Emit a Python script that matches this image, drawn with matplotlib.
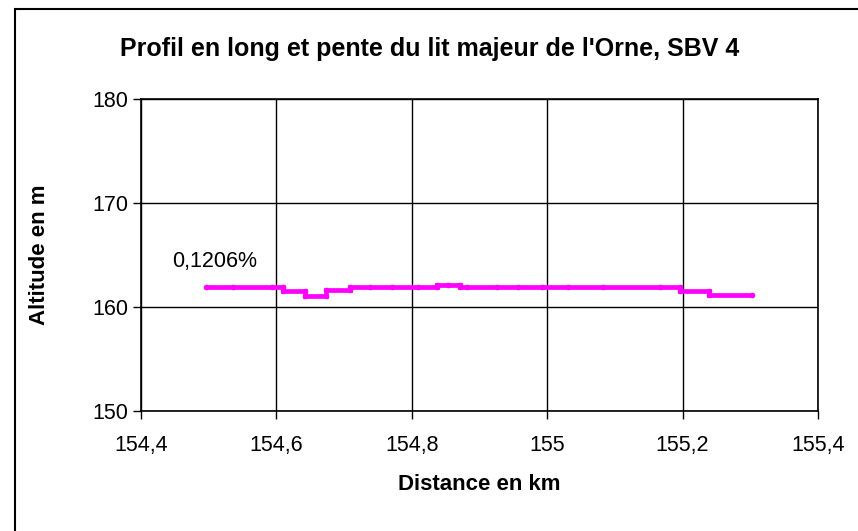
import numpy as np
import matplotlib.pyplot as plt
from matplotlib.patches import Rectangle
from matplotlib.ticker import FuncFormatter

plt.rcParams['font.family'] = ['Liberation Sans', 'DejaVu Sans']

# profile points (distance km, altitude m), steps drawn as duplicate x
dist = [154.496, 154.536, 154.594, 154.610, 154.610, 154.642, 154.642,
        154.673, 154.673, 154.709, 154.709, 154.738, 154.771, 154.809,
        154.837, 154.837, 154.853, 154.871, 154.871, 154.882, 154.926,
        154.957, 154.992, 155.031, 155.082, 155.167, 155.196, 155.196,
        155.239, 155.239, 155.303]
alt = [161.92, 161.92, 161.92, 161.92, 161.54, 161.54, 161.06,
       161.06, 161.63, 161.63, 161.92, 161.92, 161.92, 161.92,
       161.92, 162.10, 162.10, 162.10, 161.92, 161.92, 161.92,
       161.92, 161.92, 161.92, 161.92, 161.92, 161.92, 161.54,
       161.54, 161.15, 161.15]

xticks = [154.4, 154.6, 154.8, 155.0, 155.2, 155.4]
yticks = [150, 160, 170, 180]
slope_label = "0,1206%"


def fr(v, pos=None):
    s = f"{v:.1f}".rstrip('0').rstrip('.')
    return s.replace('.', ',')


fig = plt.figure(figsize=(8.58, 5.31), dpi=100)
ax = fig.add_axes([141 / 858, 1 - 411 / 531, 677 / 858, 312 / 531])

ax.plot(dist, alt, color='#FF00FF', lw=3.4, marker='o', ms=3,
        solid_joinstyle='miter', solid_capstyle='round')

ax.set_xlim(154.4, 155.4)
ax.set_ylim(150, 180)
ax.set_xticks(xticks)
ax.set_yticks(yticks)
ax.xaxis.set_major_formatter(FuncFormatter(fr))
ax.yaxis.set_major_formatter(FuncFormatter(lambda v, p: f"{v:.0f}"))
ax.grid(True, color='black', lw=1)
ax.tick_params(direction='out', length=6, width=1, labelsize=15.5)
ax.tick_params(axis='x', pad=11)
ax.tick_params(axis='y', pad=3)
for s in ax.spines.values():
    s.set_linewidth(1.2)

ax.set_xlabel('Distance en km', fontsize=16, fontweight='bold')
ax.set_ylabel('Altitude en m', fontsize=16, fontweight='bold')
ax.xaxis.set_label_coords(0.5, (411 - 474) / 312)
ax.yaxis.set_label_coords((50 - 141) / 677, 0.5)
fig.text(0.501, 1 - 49 / 531, "Profil en long et pente du lit majeur de l'Orne, SBV 4",
         ha='center', va='center', fontsize=18, fontweight='bold')
ax.text(154.446, 164.4, slope_label, fontsize=15.5, ha='left', va='center')

fig.patches.append(Rectangle((15 / 858, -0.1), 1.2, 1 - 9 / 531 + 0.1,
                             transform=fig.transFigure, fill=False,
                             edgecolor='black', lw=1.5))

fig.savefig('out.png', dpi=100)
